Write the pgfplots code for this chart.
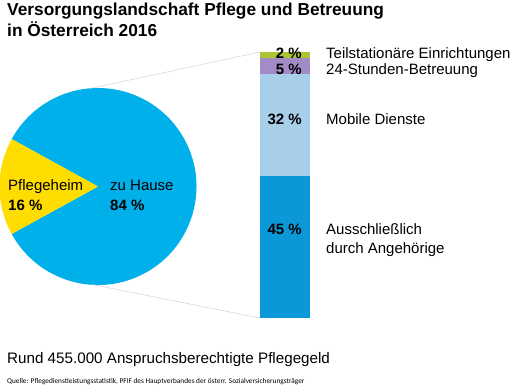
\documentclass[border=0pt]{standalone}
\usepackage{pgfplots}
\pgfplotsset{compat=1.18}
\usepackage{fontspec}
\setmainfont{Liberation Sans}
\newfontfamily\srcfont{Carlito}
\definecolor{pieblue}{HTML}{00B0EA}
\definecolor{pieyellow}{HTML}{FFDD00}
\definecolor{bdark}{HTML}{0A98D9}
\definecolor{blight}{HTML}{A8CFEA}
\definecolor{bpurple}{HTML}{A38BC8}
\definecolor{bgreen}{HTML}{ABC632}
\definecolor{linegray}{HTML}{D2D2D2}
\begin{document}
\begin{tikzpicture}
\useasboundingbox (0,0) rectangle (512bp,385bp);
% stacked bar (bottom-left at pixel x=260, y=318)
\begin{axis}[at={(260bp,67bp)}, anchor=south west, scale only axis,
  width=50bp, height=266bp, xmin=-0.5, xmax=0.5, ymin=0, ymax=84,
  ybar stacked, bar width=50bp, hide axis, clip=false]
  \addplot[fill=bdark, draw=none] coordinates {(0,45)};
  \addplot[fill=blight, draw=none] coordinates {(0,32)};
  \addplot[fill=bpurple, draw=none] coordinates {(0,5)};
  \addplot[fill=bgreen, draw=none] coordinates {(0,2)};
\end{axis}
\begin{axis}[name=main, at={(0,0)}, anchor=south west, scale only axis,
  width=512bp, height=385bp, xmin=0, xmax=512, ymin=0, ymax=385,
  y dir=reverse, hide axis, clip=false]
  % pie values
  \pgfmathsetmacro{\heim}{16}
  \pgfmathsetmacro{\hause}{84}
  \pgfmathsetmacro{\half}{\heim/100*360/2}
  \pgfmathsetmacro{\sA}{180-\half}
  \pgfmathsetmacro{\eA}{180+\half}
  \pgfmathsetmacro{\eB}{540-\half}
  \fill[pieblue] (axis cs:98,186.5) -- ++(\eA:98.5bp) arc[start angle=\eA, end angle=\eB, radius=98.5bp] -- cycle;
  \fill[pieyellow] (axis cs:98,186.5) -- ++(\sA:98.5bp) arc[start angle=\sA, end angle=\eA, radius=98.5bp] -- cycle;
  \draw[linegray, line width=0.5pt] (axis cs:90,88.5) -- (axis cs:260,52);
  \draw[linegray, line width=0.5pt] (axis cs:92,284.5) -- (axis cs:260,318);
  % titles
  \node[anchor=base west, inner sep=0pt, font=\fontsize{17.3bp}{20bp}\selectfont\bfseries] at (axis cs:7,15.5) {Versorgungslandschaft Pflege und Betreuung};
  \node[anchor=base west, inner sep=0pt, font=\fontsize{17.3bp}{20bp}\selectfont\bfseries] at (axis cs:7,36.5) {in Österreich 2016};
  \node[anchor=base west, inner sep=0pt, font=\fontsize{15.2bp}{18bp}\selectfont] at (axis cs:7,363) {Rund 455.000 Anspruchsberechtigte Pflegegeld};
  \node[anchor=base west, inner sep=0pt, font=\fontsize{7.3bp}{8bp}\srcfont] at (axis cs:7,383) {Quelle: Pflegedienstleistungsstatistik, PFIF des Hauptverbandes der österr. Sozialversicherungsträger};
  % pie labels
  \node[anchor=base west, inner sep=0pt, font=\fontsize{15bp}{18bp}\selectfont] at (axis cs:8,190.5) {Pflegeheim};
  \node[anchor=base west, inner sep=0pt, font=\fontsize{15bp}{18bp}\selectfont\bfseries] at (axis cs:8,210.5) {16 \%};
  \node[anchor=base west, inner sep=0pt, font=\fontsize{15bp}{18bp}\selectfont] at (axis cs:110,190.5) {zu Hause};
  \node[anchor=base west, inner sep=0pt, font=\fontsize{15bp}{18bp}\selectfont\bfseries] at (axis cs:110,210.5) {84 \%};
  % bar labels
  \node[anchor=base east, inner sep=0pt, font=\fontsize{15bp}{18bp}\selectfont\bfseries] at (axis cs:302,58) {2 \%};
  \node[anchor=base east, inner sep=0pt, font=\fontsize{15bp}{18bp}\selectfont\bfseries] at (axis cs:302,74) {5 \%};
  \node[anchor=base east, inner sep=0pt, font=\fontsize{15bp}{18bp}\selectfont\bfseries] at (axis cs:302,124.5) {32 \%};
  \node[anchor=base east, inner sep=0pt, font=\fontsize{15bp}{18bp}\selectfont\bfseries] at (axis cs:302,234.5) {45 \%};
  \node[anchor=base west, inner sep=0pt, font=\fontsize{15bp}{18bp}\selectfont] at (axis cs:326,58) {Teilstationäre Einrichtungen};
  \node[anchor=base west, inner sep=0pt, font=\fontsize{15bp}{18bp}\selectfont] at (axis cs:326,74) {24-Stunden-Betreuung};
  \node[anchor=base west, inner sep=0pt, font=\fontsize{15bp}{18bp}\selectfont] at (axis cs:326,124.5) {Mobile Dienste};
  \node[anchor=base west, inner sep=0pt, font=\fontsize{15bp}{18bp}\selectfont] at (axis cs:326,234.5) {Ausschließlich};
  \node[anchor=base west, inner sep=0pt, font=\fontsize{15bp}{18bp}\selectfont] at (axis cs:326,253) {durch Angehörige};
\end{axis}
\end{tikzpicture}
\end{document}
